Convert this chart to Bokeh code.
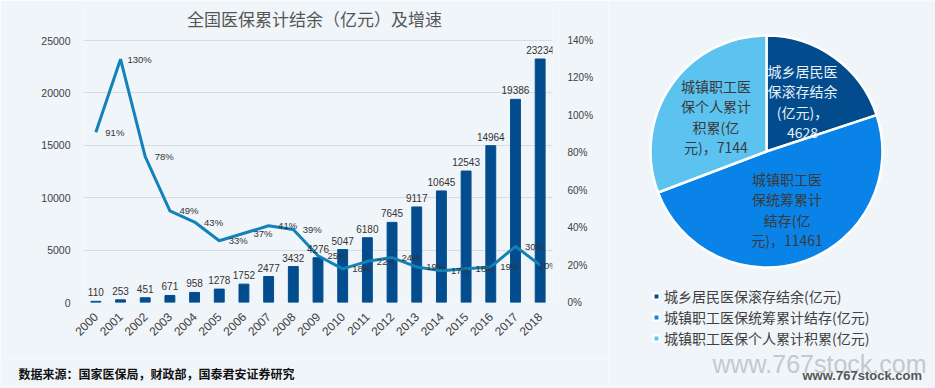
import numpy as np
from bokeh.plotting import figure
from bokeh.models import (ColumnDataSource, Range1d, LinearAxis, LabelSet, Label,
                          PrintfTickFormatter, FixedTicker, Legend, LegendItem)
from bokeh.layouts import row, column
from bokeh.embed import file_html
from bokeh.resources import INLINE
from bokeh.core.properties import value

# ---------------- data ----------------
years = [str(y) for y in range(2000, 2019)]
balance = [110, 253, 451, 671, 958, 1278, 1752, 2477, 3432, 4276, 5047, 6180,
           7645, 9117, 10645, 12543, 14964, 19386, 23234]
growth = [91, 130, 78, 49, 43, 33, 37, 41, 39, 25, 18, 22, 24, 19, 17, 18, 19, 30, 20]
left_ticks = [0, 5000, 10000, 15000, 20000, 25000]
right_ticks = [0, 20, 40, 60, 80, 100, 120, 140]
left_max, right_max = 25000, 140

pie_names = ["城乡居民医保滚存结余(亿元)", "城镇职工医保统筹累计结存(亿元)", "城镇职工医保个人累计积累(亿元)"]
pie_values = [4628, 11461, 7144]
pie_text_heads = ["城乡居民医\n保滚存结余\n(亿元)，\n", "城镇职工医\n保统筹累计\n结存(亿\n元)，", "城镇职工医\n保个人累计\n积累(亿\n元)，"]
pie_colors = ["#024C8E", "#0A83E8", "#5CC2F0"]
pie_text_colors = ["#E8EFF7", "#3A3A3A", "#3A3A3A"]

title_text = "全国医保累计结余（亿元）及增速"
source_text = "数据来源：国家医保局，财政部，国泰君安证券研究"
watermark = "www.767stock.com"
BG = "#F0F5FA"
CJK = "Noto Sans CJK SC"
LAT = "Liberation Sans"

# ---------------- left chart ----------------
# frame spans page y 0..302; the value axes' top values sit 40px below the frame top
FRAME_H, TOP_GAP = 302, 40
stretch = FRAME_H / (FRAME_H - TOP_GAP)

# growth labels sit to the right of each point; the last one is pulled in to stay visible
g_offsets = [19] * (len(years) - 1) + [8]

src = ColumnDataSource(dict(
    year=years, balance=balance, growth=growth,
    blabel=[str(v) for v in balance],
    glabel=[f"{v}%" for v in growth],
    goff=g_offsets,
))

p = figure(x_range=years, y_range=Range1d(0, left_max * stretch), width=608, height=358,
           output_backend="svg", toolbar_location=None,
           min_border_left=83, min_border_right=56, min_border_top=0, min_border_bottom=56,
           background_fill_color=BG, border_fill_color=BG)
p.title.visible = False
p.outline_line_color = None
p.extra_y_ranges = {"pct": Range1d(0, right_max * stretch)}

p.vbar(x="year", top="balance", width=0.4, source=src, color="#034D8F")
p.line(x="year", y="growth", y_range_name="pct", source=src,
       line_color="#1282B8", line_width=3)

p.add_layout(LabelSet(x="year", y="balance", text="blabel", source=src,
                      y_offset=5, text_align="center", text_baseline="bottom",
                      text_font=value(LAT), text_font_size="10px", text_color="#333333"))
p.add_layout(LabelSet(x="year", y="growth", text="glabel", source=src, y_range_name="pct",
                      x_offset="goff", text_align="center", text_baseline="middle",
                      text_font=value(LAT), text_font_size="9.5px", text_color="#333333"))

p.yaxis.ticker = FixedTicker(ticks=left_ticks)
p.yaxis.formatter = PrintfTickFormatter(format="%d")
p.ygrid.ticker = FixedTicker(ticks=left_ticks)
p.ygrid.grid_line_color = "#D8DCE0"
p.ygrid.grid_line_width = 1.2
p.xgrid.grid_line_color = None

ax_r = LinearAxis(y_range_name="pct", ticker=FixedTicker(ticks=right_ticks),
                  formatter=PrintfTickFormatter(format="%d%%"))
p.add_layout(ax_r, "right")

for ax in [p.yaxis[0], ax_r, p.xaxis[0]]:
    ax.axis_line_color = None
    ax.major_tick_line_color = None
    ax.minor_tick_line_color = None
    ax.major_label_text_font = LAT
    ax.major_label_text_color = "#404040"
p.yaxis[0].major_label_text_font_size = "10.5px"
p.yaxis[0].major_label_standoff = 7
ax_r.major_label_text_font_size = "10px"
ax_r.major_label_standoff = 9
p.xaxis.major_label_orientation = np.pi / 4
p.xaxis.major_label_text_font_size = "12px"
p.xaxis.major_label_standoff = 6

p.add_layout(Label(x=231, y=284, x_units="screen", y_units="screen", text=title_text,
                   text_align="center", text_baseline="middle",
                   text_font=CJK, text_font_size="17px", text_color="#555555"))

# bottom strip with the source note
s = figure(width=608, height=30, x_range=Range1d(0, 608), y_range=Range1d(0, 30),
           output_backend="svg", toolbar_location=None,
           x_axis_location=None, y_axis_location=None,
           min_border=0, background_fill_color=BG, border_fill_color=BG)
s.title.visible = False
s.outline_line_color = None
s.grid.visible = False
s.text(x=[18], y=[15], text=[source_text], text_font=value(CJK), text_font_size="12px",
       text_font_style="bold", text_color="#111111", text_baseline="middle")

# ---------------- pie chart ----------------
vals = np.array(pie_values, dtype=float)
frac = vals / vals.sum()
cum = np.concatenate([[0.0], np.cumsum(frac)]) * 2 * np.pi  # clockwise from top
starts = np.pi / 2 - cum[1:]
ends = np.pi / 2 - cum[:-1]
mids = (cum[1:] + cum[:-1]) / 2

cx, cy, R = 158, 237, 116
psrc = ColumnDataSource(dict(
    start=starts, end=ends, color=pie_colors, name=pie_names,
    tx=cx + 0.53 * R * np.sin(mids), ty=cy + 0.53 * R * np.cos(mids),
    label=[h + str(v) for h, v in zip(pie_text_heads, pie_values)],
    tcolor=pie_text_colors,
))

q = figure(width=327, height=388, x_range=Range1d(0, 327), y_range=Range1d(0, 388),
           output_backend="svg", toolbar_location=None,
           x_axis_location=None, y_axis_location=None,
           min_border=0, background_fill_color=BG, border_fill_color=BG)
q.title.visible = False
q.outline_line_color = None
q.grid.visible = False

for fig in (p, q, s):
    if "frame_align" in fig.properties():
        fig.frame_align = False

wr = q.wedge(x=cx, y=cy, radius=R, start_angle="start", end_angle="end",
             fill_color="color", line_color="white", line_width=2.5, source=psrc)
q.text(x="tx", y="ty", text="label", source=psrc, text_color="tcolor",
       text_align="center", text_baseline="middle", text_line_height=1.02,
       text_font=value(CJK), text_font_size="14px")

legend = Legend(items=[LegendItem(label=n, renderers=[wr], index=i) for i, n in enumerate(pie_names)],
                location=(44, 40), orientation="vertical",
                glyph_width=8, glyph_height=8, label_standoff=4, spacing=1,
                padding=0, margin=0, label_height=16,
                label_text_font=CJK, label_text_font_size="14px", label_text_color="#404040",
                background_fill_alpha=0, border_line_color=None)
q.add_layout(legend)

q.text(x=[104], y=[25], text=[watermark], text_font=value(LAT),
       text_font_size="25px", text_color="#C4C8CD", text_baseline="middle")
q.text(x=[194], y=[13], text=[watermark], text_font=value(LAT),
       text_font_size="13px", text_font_style="bold", text_color="#555555",
       text_baseline="middle")

layout = row(column(p, s, spacing=0), q, spacing=0)
open("out.html", "w").write(file_html(layout, INLINE))
